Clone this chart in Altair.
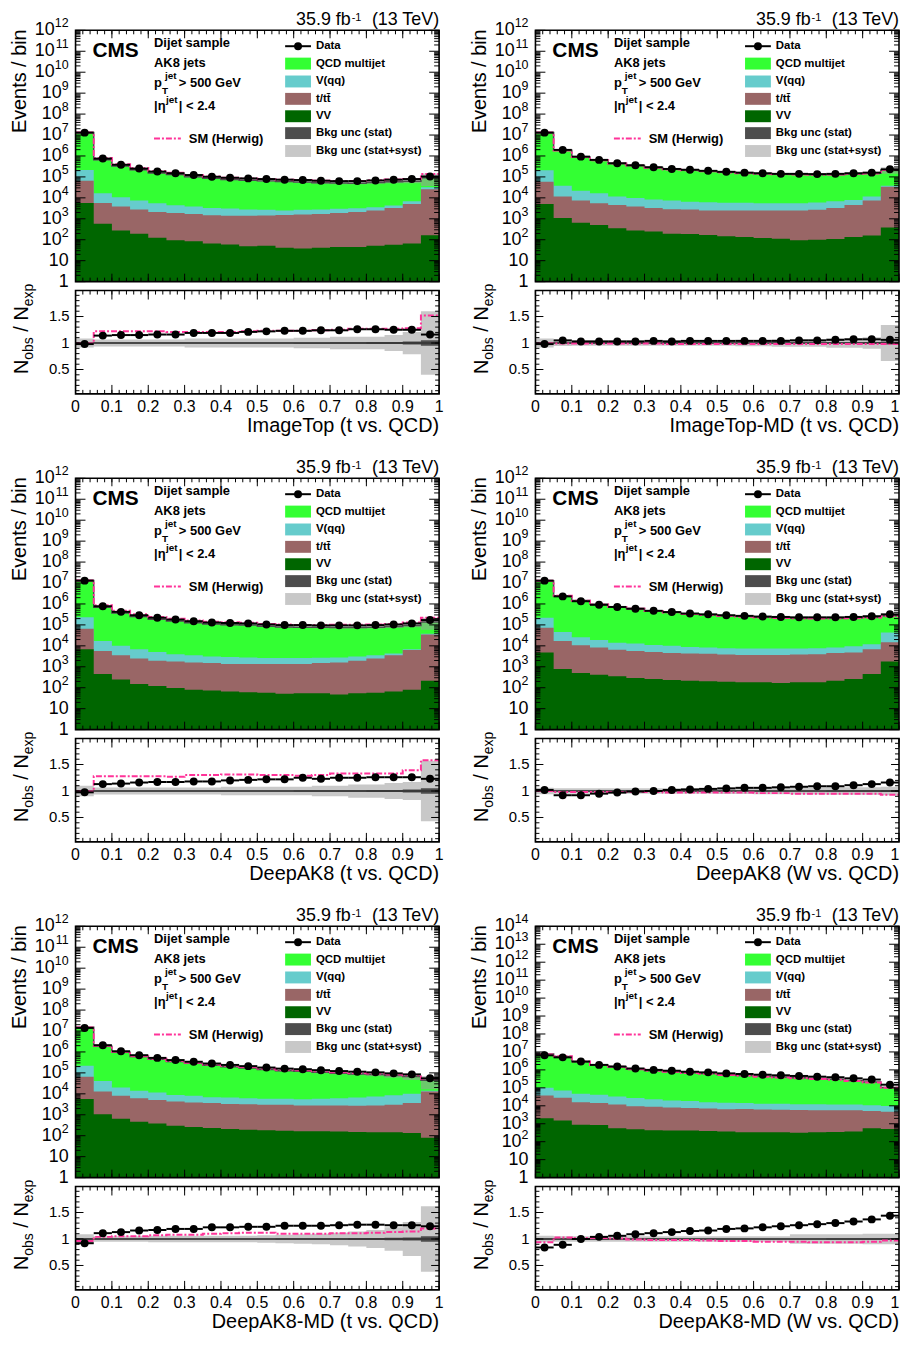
import altair as alt
import pandas as pd

FONT = "Liberation Sans"

# ---------------- values (20 bins of width 0.05) ----------------
# Panel 1: ImageTop (t vs. QCD)
P1_DATA = [1.3e7, 7.5e5, 3.8e5, 2.5e5, 1.8e5, 1.5e5, 1.23e5, 1.02e5, 9.1e4, 8.5e4, 7.9e4, 7.4e4, 7.1e4, 6.6e4, 6.3e4, 6.3e4, 6.8e4, 7.4e4, 7.9e4, 1.05e5]
P1_QCD = [1.31e7, 6.4e5, 3.2e5, 2.1e5, 1.5e5, 1.25e5, 9.9e4, 8.3e4, 7.3e4, 6.7e4, 6.2e4, 5.75e4, 5.5e4, 5.0e4, 4.8e4, 4.7e4, 5.05e4, 5.5e4, 5.6e4, 5.9e4]
P1_VQQ = [1.5e5, 1.1e4, 6.8e3, 4.6e3, 3.4e3, 2.5e3, 2.2e3, 1.8e3, 1.7e3, 1.4e3, 1.25e3, 1.0e3, 1.1e3, 1.05e3, 1.1e3, 1.1e3, 1.05e3, 1.0e3, 1.8e3, 6.0e3]
P1_TT = [6.0e4, 5.1e3, 3.6e3, 2.6e3, 2.0e3, 1.8e3, 1.6e3, 1.43e3, 1.34e3, 1.35e3, 1.4e3, 1.46e3, 1.56e3, 1.66e3, 1.85e3, 2.05e3, 2.45e3, 3.24e3, 5.0e3, 2.58e4]
P1_VV = [5700, 580, 280, 195, 126, 94, 85, 66, 59, 49, 51, 42, 38, 42, 45, 45, 52, 57, 66, 162]
P1_RATIO = [0.98, 1.14, 1.15, 1.15, 1.16, 1.16, 1.19, 1.19, 1.19, 1.21, 1.22, 1.23, 1.23, 1.24, 1.24, 1.26, 1.26, 1.25, 1.25, 1.16]
P1_HERWIG = [0.99, 1.22, 1.22, 1.22, 1.22, 1.21, 1.21, 1.21, 1.21, 1.22, 1.23, 1.23, 1.23, 1.24, 1.25, 1.27, 1.27, 1.27, 1.28, 1.52]
P1_SYST = [0.085, 0.065, 0.065, 0.065, 0.065, 0.065, 0.085, 0.085, 0.085, 0.085, 0.085, 0.085, 0.1, 0.1, 0.12, 0.12, 0.12, 0.15, 0.21, 0.6]
P1_STAT = [0.012, 0.01, 0.01, 0.01, 0.01, 0.01, 0.01, 0.01, 0.01, 0.01, 0.01, 0.01, 0.012, 0.012, 0.015, 0.015, 0.02, 0.02, 0.03, 0.05]

# Panel 2: ImageTop-MD (t vs. QCD)
P2_DATA = [1.3e7, 1.95e6, 9.3e5, 6.5e5, 4.5e5, 3.6e5, 2.9e5, 2.4e5, 2.2e5, 1.95e5, 1.75e5, 1.6e5, 1.5e5, 1.4e5, 1.4e5, 1.36e5, 1.4e5, 1.5e5, 1.6e5, 2.3e5]
P2_QCD = [1.31e7, 1.82e6, 8.8e5, 6.1e5, 4.25e5, 3.4e5, 2.7e5, 2.26e5, 2.05e5, 1.82e5, 1.62e5, 1.48e5, 1.38e5, 1.3e5, 1.27e5, 1.24e5, 1.25e5, 1.32e5, 1.38e5, 1.79e5]
P2_VQQ = [1.5e5, 2.65e4, 1.46e4, 1.1e4, 7.0e3, 6.1e3, 5.0e3, 4.5e3, 3.8e3, 3.7e3, 3.3e3, 3.3e3, 3.0e3, 3.0e3, 3.0e3, 3.3e3, 3.6e3, 3.4e3, 4.1e3, 4.0e3]
P2_TT = [5.4e4, 1.04e4, 6.75e3, 5.0e3, 4.15e3, 3.6e3, 3.05e3, 2.7e3, 2.6e3, 2.33e3, 2.35e3, 2.36e3, 2.38e3, 2.39e3, 2.4e3, 2.6e3, 3.2e3, 4.46e3, 7.24e3, 3.36e4]
P2_VV = [5100, 1080, 650, 500, 350, 280, 245, 195, 187, 170, 145, 135, 122, 113, 94, 100, 110, 135, 158, 380]
P2_RATIO = [0.98, 1.05, 1.03, 1.03, 1.03, 1.03, 1.04, 1.03, 1.04, 1.04, 1.04, 1.04, 1.04, 1.04, 1.05, 1.05, 1.06, 1.07, 1.07, 1.06]
P2_HERWIG = [0.99, 0.99, 0.99, 0.99, 0.99, 0.99, 0.99, 0.98, 0.98, 0.98, 0.98, 0.98, 0.98, 0.98, 0.98, 0.98, 0.98, 0.98, 0.98, 0.98]
P2_SYST = [0.085, 0.055, 0.05, 0.05, 0.05, 0.05, 0.05, 0.05, 0.05, 0.05, 0.05, 0.06, 0.06, 0.07, 0.07, 0.07, 0.09, 0.09, 0.11, 0.34]
P2_STAT = [0.012, 0.01, 0.01, 0.01, 0.01, 0.01, 0.01, 0.01, 0.01, 0.01, 0.01, 0.01, 0.01, 0.01, 0.012, 0.012, 0.015, 0.015, 0.02, 0.03]

# Panel 3: DeepAK8 (t vs. QCD)
P3_DATA = [1.3e7, 7.8e5, 4.2e5, 2.9e5, 2.2e5, 1.8e5, 1.5e5, 1.3e5, 1.23e5, 1.18e5, 1.05e5, 9.8e4, 9.8e4, 9.5e4, 9.5e4, 9.5e4, 9.8e4, 1.05e5, 1.18e5, 1.7e5]
P3_QCD = [1.31e7, 6.7e5, 3.6e5, 2.43e5, 1.83e5, 1.5e5, 1.23e5, 1.07e5, 1.0e5, 9.5e4, 8.3e4, 7.7e4, 7.5e4, 7.4e4, 7.3e4, 7.3e4, 7.4e4, 7.9e4, 8.7e4, 1.0e5]
P3_VQQ = [1.64e5, 1.13e4, 6.4e3, 4.4e3, 3.15e3, 2.2e3, 2.0e3, 1.6e3, 1.55e3, 1.45e3, 1.25e3, 1.25e3, 1.25e3, 1.2e3, 1.2e3, 1.15e3, 1.1e3, 700, 500, 3.0e3]
P3_TT = [5.9e4, 5.25e3, 3.35e3, 2.35e3, 1.83e3, 1.7e3, 1.52e3, 1.43e3, 1.28e3, 1.29e3, 1.29e3, 1.3e3, 1.3e3, 1.45e3, 1.55e3, 1.9e3, 2.44e3, 3.53e3, 6.3e3, 3.48e4]
P3_VV = [6900, 450, 245, 150, 122, 98, 81, 73, 66, 61, 57, 51, 55, 55, 47, 55, 57, 66, 81, 218]
P3_RATIO = [0.975, 1.13, 1.14, 1.16, 1.17, 1.17, 1.18, 1.18, 1.2, 1.21, 1.22, 1.22, 1.25, 1.23, 1.25, 1.25, 1.26, 1.26, 1.26, 1.23]
P3_HERWIG = [0.99, 1.28, 1.28, 1.28, 1.28, 1.27, 1.3, 1.3, 1.31, 1.31, 1.3, 1.3, 1.29, 1.3, 1.33, 1.33, 1.33, 1.33, 1.39, 1.58]
P3_SYST = [0.1, 0.065, 0.065, 0.065, 0.065, 0.065, 0.065, 0.065, 0.08, 0.08, 0.08, 0.08, 0.08, 0.1, 0.1, 0.125, 0.125, 0.15, 0.17, 0.57]
P3_STAT = [0.012, 0.01, 0.01, 0.01, 0.01, 0.01, 0.01, 0.01, 0.01, 0.01, 0.01, 0.01, 0.012, 0.012, 0.015, 0.015, 0.02, 0.02, 0.03, 0.05]

# Panel 4: DeepAK8 (W vs. QCD)
P4_DATA = [1.3e7, 2.3e6, 1.35e6, 9.1e5, 7.2e5, 5.9e5, 4.7e5, 4.1e5, 3.5e5, 3.2e5, 2.9e5, 2.7e5, 2.5e5, 2.4e5, 2.3e5, 2.3e5, 2.3e5, 2.4e5, 2.6e5, 3.2e5]
P4_QCD = [1.25e7, 2.45e6, 1.44e6, 9.4e5, 7.26e5, 5.87e5, 4.6e5, 3.9e5, 3.3e5, 3.0e5, 2.68e5, 2.48e5, 2.29e5, 2.17e5, 2.06e5, 2.03e5, 2.03e5, 2.07e5, 2.18e5, 2.33e5]
P4_VQQ = [1.46e5, 2.9e4, 1.53e4, 1.07e4, 7.5e3, 7.3e3, 5.9e3, 5.5e3, 4.6e3, 4.1e3, 3.8e3, 3.7e3, 3.7e3, 3.7e3, 3.5e3, 3.7e3, 3.8e3, 4.7e3, 5.1e3, 2.8e4]
P4_TT = [6.9e4, 1.62e4, 1.02e4, 7.9e3, 6.15e3, 5.4e3, 4.84e3, 4.27e3, 4.08e3, 4.0e3, 3.7e3, 3.52e3, 3.52e3, 3.53e3, 3.72e3, 3.82e3, 4.28e3, 4.54e3, 6.45e3, 1.32e4]
P4_VV = [4800, 780, 500, 420, 350, 290, 260, 235, 218, 203, 195, 182, 182, 170, 182, 182, 218, 260, 450, 1800]
P4_RATIO = [1.02, 0.92, 0.92, 0.95, 0.97, 0.99, 1.0, 1.02, 1.03, 1.04, 1.05, 1.06, 1.06, 1.07, 1.08, 1.09, 1.09, 1.11, 1.13, 1.16]
P4_HERWIG = [1.0, 0.98, 0.98, 0.98, 0.98, 0.98, 0.98, 0.97, 0.97, 0.97, 0.97, 0.97, 0.96, 0.96, 0.95, 0.95, 0.95, 0.95, 0.95, 0.93]
P4_SYST = [0.06, 0.05, 0.05, 0.05, 0.05, 0.05, 0.05, 0.05, 0.05, 0.05, 0.055, 0.055, 0.06, 0.06, 0.065, 0.065, 0.07, 0.07, 0.07, 0.08]
P4_STAT = [0.012, 0.01, 0.01, 0.01, 0.01, 0.01, 0.01, 0.01, 0.01, 0.01, 0.01, 0.01, 0.01, 0.01, 0.01, 0.01, 0.012, 0.012, 0.015, 0.02]

# Panel 5: DeepAK8-MD (t vs. QCD)
P5_DATA = [1.4e7, 2.1e6, 1.08e6, 7.0e5, 5.2e5, 4.1e5, 3.4e5, 2.8e5, 2.4e5, 2.1e5, 1.8e5, 1.6e5, 1.5e5, 1.35e5, 1.22e5, 1.14e5, 1.06e5, 9.5e4, 8.5e4, 5.5e4]
P5_QCD = [1.5e7, 1.85e6, 9.4e5, 5.86e5, 4.33e5, 3.36e5, 2.78e5, 2.23e5, 1.9e5, 1.65e5, 1.4e5, 1.22e5, 1.15e5, 1.02e5, 9.1e4, 8.3e4, 7.6e4, 6.6e4, 5.7e4, 3.0e4]
P5_VQQ = [1.54e5, 2.8e4, 1.2e4, 7.8e3, 6.4e3, 4.6e3, 4.1e3, 3.3e3, 3.3e3, 3.0e3, 2.8e3, 2.8e3, 2.7e3, 3.0e3, 3.4e3, 3.9e3, 4.6e3, 5.5e3, 6.4e3, 1.0e3]
P5_TT = [6.0e4, 1.19e4, 7.35e3, 5.73e3, 4.72e3, 4.0e3, 3.64e3, 3.37e3, 3.09e3, 3.0e3, 2.82e3, 2.83e3, 2.64e3, 2.64e3, 2.64e3, 2.55e3, 2.66e3, 2.86e3, 3.47e3, 1.29e4]
P5_VV = [5700, 1070, 650, 470, 380, 300, 260, 235, 210, 195, 182, 175, 162, 162, 158, 151, 145, 145, 135, 79]
P5_RATIO = [0.92, 1.11, 1.13, 1.16, 1.17, 1.19, 1.19, 1.22, 1.22, 1.23, 1.23, 1.25, 1.25, 1.25, 1.26, 1.27, 1.27, 1.26, 1.26, 1.24]
P5_HERWIG = [0.96, 1.04, 1.05, 1.05, 1.07, 1.08, 1.08, 1.1, 1.11, 1.12, 1.12, 1.1, 1.1, 1.1, 1.11, 1.11, 1.12, 1.13, 1.14, 1.2]
P5_SYST = [0.09, 0.05, 0.05, 0.05, 0.06, 0.06, 0.06, 0.06, 0.06, 0.06, 0.07, 0.08, 0.09, 0.1, 0.12, 0.14, 0.17, 0.22, 0.32, 0.62]
P5_STAT = [0.012, 0.01, 0.01, 0.01, 0.01, 0.01, 0.01, 0.01, 0.01, 0.01, 0.01, 0.012, 0.012, 0.015, 0.015, 0.02, 0.02, 0.025, 0.03, 0.05]

# Panel 6: DeepAK8-MD (W vs. QCD)
P6_DATA = [6.5e6, 5.0e6, 2.9e6, 1.9e6, 1.55e6, 1.2e6, 1.0e6, 9.0e5, 7.9e5, 7.3e5, 6.4e5, 5.9e5, 5.4e5, 5.0e5, 4.6e5, 4.2e5, 3.9e5, 3.4e5, 2.9e5, 1.5e5]
P6_QCD = [7.6e6, 5.5e6, 2.85e6, 1.79e6, 1.43e6, 1.07e6, 8.8e5, 7.8e5, 6.7e5, 6.1e5, 5.25e5, 4.75e5, 4.27e5, 3.87e5, 3.53e5, 3.18e5, 2.88e5, 2.44e5, 2.01e5, 9.4e4]
P6_VQQ = [6.2e4, 4.3e4, 3.1e4, 2.65e4, 2.13e4, 1.76e4, 1.43e4, 1.2e4, 1.09e4, 9.0e3, 8.5e3, 8.0e3, 6.8e3, 7.1e3, 6.1e3, 6.3e3, 6.3e3, 6.0e3, 5.5e3, 5.2e3]
P6_TT = [3.6e4, 2.65e4, 1.51e4, 1.37e4, 1.11e4, 8.9e3, 8.3e3, 7.6e3, 7.2e3, 6.6e3, 6.1e3, 6.2e3, 5.9e3, 5.6e3, 5.6e3, 5.4e3, 5.35e3, 5.3e3, 4.6e3, 4.1e3]
P6_VV = [2000, 1500, 890, 850, 560, 490, 435, 415, 415, 400, 365, 335, 335, 335, 320, 335, 350, 365, 560, 510]
P6_RATIO = [0.84, 0.89, 1.0, 1.04, 1.06, 1.09, 1.11, 1.13, 1.15, 1.16, 1.19, 1.2, 1.22, 1.24, 1.26, 1.28, 1.3, 1.33, 1.37, 1.44]
P6_HERWIG = [0.94, 1.03, 1.02, 1.02, 1.01, 0.99, 0.98, 0.98, 0.98, 0.97, 0.96, 0.96, 0.95, 0.95, 0.95, 0.94, 0.94, 0.94, 0.95, 0.97]
P6_SYST = [0.06, 0.05, 0.05, 0.05, 0.05, 0.05, 0.05, 0.05, 0.05, 0.05, 0.05, 0.05, 0.05, 0.05, 0.09, 0.09, 0.09, 0.09, 0.1, 0.1]
P6_STAT = [0.012, 0.01, 0.01, 0.01, 0.01, 0.01, 0.01, 0.01, 0.01, 0.01, 0.01, 0.01, 0.01, 0.01, 0.01, 0.01, 0.012, 0.012, 0.015, 0.02]

TITLES = ["ImageTop (t vs. QCD)", "ImageTop-MD (t vs. QCD)", "DeepAK8 (t vs. QCD)",
          "DeepAK8 (W vs. QCD)", "DeepAK8-MD (t vs. QCD)", "DeepAK8-MD (W vs. QCD)"]
Y_MAX_EXP = [12, 12, 12, 12, 12, 14]

# bin edges / tick values / tick labels
EDGES = [0.0, 0.05, 0.1, 0.15, 0.2, 0.25, 0.3, 0.35, 0.4, 0.45, 0.5, 0.55, 0.6, 0.65, 0.7, 0.75, 0.8, 0.85, 0.9, 0.95, 1.0]
MIDS = [0.025, 0.075, 0.125, 0.175, 0.225, 0.275, 0.325, 0.375, 0.425, 0.475, 0.525, 0.575, 0.625, 0.675, 0.725, 0.775, 0.825, 0.875, 0.925, 0.975]
X_TICKS = [0.0, 0.1, 0.2, 0.3, 0.4, 0.5, 0.6, 0.7, 0.8, 0.9, 1.0]
X_TICK_LABELS = ["0", "0.1", "0.2", "0.3", "0.4", "0.5", "0.6", "0.7", "0.8", "0.9", "1"]
X_MINOR = [i / 50 for i in range(51)]
R_TICKS = [0.5, 1.0, 1.5]
R_TICK_LABELS = ["0.5", "1", "1.5"]
R_MINOR = [i / 10 for i in range(1, 20)]
LOG_TICK_BASE = ["1", "10", "10", "10", "10", "10", "10", "10", "10", "10", "10", "10", "10", "10", "10"]
LOG_TICK_EXP = ["", "", "2", "3", "4", "5", "6", "7", "8", "9", "10", "11", "12", "13", "14"]
LEGEND_LABELS = ["Data", "QCD multijet", "V(qq)", "t/tt̄", "VV", "Bkg unc (stat)", "Bkg unc (stat+syst)"]

# ---------------- style / layout ----------------
C_QCD, C_VQQ, C_TT, C_VV = "#33ff33", "#66cccc", "#996666", "#006600"
C_STAT, C_SYST, C_HW = "#4d4d4d", "#9a9a9a", "#ff3399"
HW_DASH = [6, 2, 2, 2]
COL_L = [68, 531]
ROW_T = [18, 469, 920]
PW, MH, RGAP, RH = 366, 253, 262, 104
R_DOMAIN = [0.04, 1.99]

ONE = pd.DataFrame({"k": [0]})

PANELS = []
for i in range(6):
    g = globals()
    PANELS.append({k: g[f"P{i+1}_{k.upper()}"] for k in
                   ("data", "qcd", "vqq", "tt", "vv", "ratio", "herwig", "syst", "stat")})
    PANELS[-1]["title"] = TITLES[i]
    PANELS[-1]["yexp"] = Y_MAX_EXP[i]


def text(x, y, s, size, bold=False, align="left", baseline="alphabetic", angle=None, color="black"):
    props = dict(text=s, font=FONT, fontSize=size, fontWeight="bold" if bold else "normal",
                 align=align, baseline=baseline, color=color)
    if angle is not None:
        props["angle"] = angle
    return alt.Chart(ONE).mark_text(**props).encode(x=alt.value(x), y=alt.value(y))


def rect(x1, x2, y1, y2, **props):
    return alt.Chart(ONE).mark_rect(**props).encode(
        x=alt.value(x1), x2=alt.value(x2), y=alt.value(y1), y2=alt.value(y2))


def hline(x1, x2, y, **props):
    return alt.Chart(ONE).mark_rule(**props).encode(x=alt.value(x1), x2=alt.value(x2), y=alt.value(y))


def step_frame(top, bot):
    top = list(top)
    bot = list(bot)
    return pd.DataFrame({"x": EDGES, "top": top + top[-1:], "bot": bot + bot[-1:]})


def tick_layers(X, Y, L, T, H, ymaj, ymin, ylen, xlen):
    out = []
    for vals, ln in ((ymaj, ylen[0]), (ymin, ylen[1])):
        df = pd.DataFrame({"v": vals})
        out.append(alt.Chart(df).mark_rule(color="black", strokeWidth=1).encode(
            y=Y("v"), x=alt.value(L), x2=alt.value(L + ln)))
        out.append(alt.Chart(df).mark_rule(color="black", strokeWidth=1).encode(
            y=Y("v"), x=alt.value(L + PW - ln), x2=alt.value(L + PW)))
    for vals, ln in ((X_TICKS, xlen[0]), (X_MINOR, xlen[1])):
        df = pd.DataFrame({"v": vals})
        out.append(alt.Chart(df).mark_rule(color="black", strokeWidth=1).encode(
            x=X("v"), y=alt.value(T), y2=alt.value(T + ln)))
        out.append(alt.Chart(df).mark_rule(color="black", strokeWidth=1).encode(
            x=X("v"), y=alt.value(T + H - ln), y2=alt.value(T + H)))
    out.append(rect(L, L + PW, T, T + H, fillOpacity=0, stroke="black", strokeWidth=1.6))
    return out


def main_panel(p, L, T):
    xs = alt.Scale(domain=[0, 1], range=[L, L + PW], nice=False, zero=False)
    ys = alt.Scale(type="log", domain=[1, 10 ** p["yexp"]], range=[T + MH, T], nice=False)

    def X(f):
        return alt.X(f, type="quantitative", scale=xs, axis=None)

    def Y(f):
        return alt.Y(f, type="quantitative", scale=ys, axis=None)

    qcd, vqq, tt, vv = (pd.Series(p[k], dtype=float) for k in ("qcd", "vqq", "tt", "vv"))
    lv_tt = vv + tt
    lv_vqq = lv_tt + vqq
    total = lv_vqq + qcd
    ones = [1.0] * 20
    layers = []
    for top, col in ((total, C_QCD), (lv_vqq, C_VQQ), (lv_tt, C_TT), (vv, C_VV)):
        layers.append(alt.Chart(step_frame(top, ones)).mark_area(
            interpolate="step-after", color=col, opacity=1).encode(x=X("x"), y=Y("top"), y2=alt.Y2("bot")))
    syst = pd.Series(p["syst"])
    layers.append(alt.Chart(step_frame(total * (1 + syst), total * (1 - syst))).mark_area(
        interpolate="step-after", color=C_SYST, opacity=0.55).encode(x=X("x"), y=Y("top"), y2=alt.Y2("bot")))
    layers.append(alt.Chart(step_frame(total, total)).mark_line(
        interpolate="step-after", color=C_STAT, strokeWidth=1.5).encode(x=X("x"), y=Y("top")))
    hw = total * pd.Series(p["herwig"])
    layers.append(alt.Chart(step_frame(hw, hw)).mark_line(
        interpolate="step-after", color=C_HW, strokeWidth=2, strokeDash=HW_DASH).encode(x=X("x"), y=Y("top")))
    dd = pd.DataFrame({"lo": EDGES[:-1], "hi": EDGES[1:], "mid": MIDS, "v": p["data"]})
    layers.append(alt.Chart(dd).mark_rule(color="black", strokeWidth=2).encode(
        x=X("lo"), x2=alt.X2("hi"), y=Y("v")))
    layers.append(alt.Chart(dd).mark_circle(color="black", opacity=1, size=64).encode(x=X("mid"), y=Y("v")))

    n = p["yexp"]
    ymaj = [10.0 ** k for k in range(n + 1)]
    ymin = [m * 10.0 ** k for k in range(n) for m in range(2, 10)]
    layers += tick_layers(X, Y, L, T, MH, ymaj, ymin, (10, 5), (8, 4))

    # log tick labels: base "10" plus a raised exponent
    lab = pd.DataFrame({"v": ymaj, "base": LOG_TICK_BASE[: n + 1], "exp": LOG_TICK_EXP[: n + 1]})
    lab["nd"] = lab["exp"].str.len()
    for nd, shift in ((0, 0), (1, 7), (2, 14)):
        sub = lab[lab["nd"] == nd]
        layers.append(alt.Chart(sub).mark_text(align="right", baseline="middle", font=FONT, fontSize=18).encode(
            x=alt.value(L - 7 - shift), y=Y("v"), text=alt.Text("base:N")))
        if nd:
            layers.append(alt.Chart(sub).mark_text(align="right", baseline="alphabetic", font=FONT,
                                                   fontSize=12.5, dy=-3).encode(
                x=alt.value(L - 7), y=Y("v"), text=alt.Text("exp:N")))

    # titles and texts
    layers.append(text(L - 50, T - 1, "Events / bin", 20, align="right", angle=270))
    layers.append(text(L + PW - 89, T - 5, "35.9 fb", 18, align="right"))
    layers.append(text(L + PW - 88, T - 9.5, "-1", 11, align="left"))
    layers.append(text(L + PW, T - 5, "(13 TeV)", 18, align="right"))
    layers.append(text(L + 17, T + 27, "CMS", 21, bold=True))
    layers.append(text(L + 79, T + 17, "Dijet sample", 13, bold=True))
    layers.append(text(L + 79, T + 37, "AK8 jets", 13, bold=True))
    layers.append(text(L + 79, T + 57, "p", 13, bold=True))
    layers.append(text(L + 90, T + 49, "jet", 10, bold=True))
    layers.append(text(L + 87, T + 64, "T", 10, bold=True))
    layers.append(text(L + 104, T + 57, "> 500 GeV", 13, bold=True))
    layers.append(text(L + 79, T + 80, "|η", 13, bold=True))
    layers.append(text(L + 91, T + 73, "jet", 10, bold=True))
    layers.append(text(L + 104, T + 80, "| < 2.4", 13, bold=True))
    layers.append(hline(L + 79, L + 106, T + 109, color=C_HW, strokeWidth=2, strokeDash=HW_DASH))
    layers.append(text(L + 114, T + 113, "SM (Herwig)", 13, bold=True))

    # legend (right column)
    ly = [16, 33.5, 51.5, 69, 86.5, 103.5, 121.5]
    layers.append(hline(L + 211, L + 237, T + ly[0], color="black", strokeWidth=2))
    layers.append(alt.Chart(ONE).mark_circle(color="black", opacity=1, size=64).encode(
        x=alt.value(L + 224), y=alt.value(T + ly[0])))
    for yc, col in zip(ly[1:6], (C_QCD, C_VQQ, C_TT, C_VV, C_STAT)):
        layers.append(rect(L + 211, L + 237, T + yc - 6, T + yc + 6, color=col))
    layers.append(rect(L + 211, L + 237, T + ly[6] - 6, T + ly[6] + 6, color=C_SYST, opacity=0.55))
    for yc, s in zip(ly, LEGEND_LABELS):
        layers.append(text(L + 242, T + yc, s, 11.5, bold=True, baseline="middle"))
    return alt.layer(*layers)


def ratio_panel(p, L, T, last_dx):
    B = T + RH
    xs = alt.Scale(domain=[0, 1], range=[L, L + PW], nice=False, zero=False)
    ys = alt.Scale(domain=R_DOMAIN, range=[B, T], nice=False, zero=False)

    def X(f):
        return alt.X(f, type="quantitative", scale=xs, axis=None)

    def Y(f):
        return alt.Y(f, type="quantitative", scale=ys, axis=None)

    layers = []
    for unc, col, op in ((p["syst"], C_SYST, 0.55), (p["stat"], C_STAT, 1.0)):
        layers.append(alt.Chart(step_frame([1 + u for u in unc], [1 - u for u in unc])).mark_area(
            interpolate="step-after", color=col, opacity=op).encode(x=X("x"), y=Y("top"), y2=alt.Y2("bot")))
    unity = pd.DataFrame({"a": [0.0], "b": [1.0], "v": [1.0]})
    layers.append(alt.Chart(unity).mark_rule(color="#333333", strokeWidth=1.5).encode(
        x=X("a"), x2=alt.X2("b"), y=Y("v")))
    layers.append(alt.Chart(step_frame(p["herwig"], p["herwig"])).mark_line(
        interpolate="step-after", color=C_HW, strokeWidth=2, strokeDash=HW_DASH).encode(x=X("x"), y=Y("top")))
    dd = pd.DataFrame({"lo": EDGES[:-1], "hi": EDGES[1:], "mid": MIDS, "v": p["ratio"]})
    layers.append(alt.Chart(dd).mark_rule(color="black", strokeWidth=2).encode(
        x=X("lo"), x2=alt.X2("hi"), y=Y("v")))
    layers.append(alt.Chart(dd).mark_circle(color="black", opacity=1, size=64).encode(x=X("mid"), y=Y("v")))

    layers += tick_layers(X, Y, L, T, RH, R_TICKS, R_MINOR, (8, 4), (9, 4))
    ylab = pd.DataFrame({"v": R_TICKS, "lab": R_TICK_LABELS})
    layers.append(alt.Chart(ylab).mark_text(align="right", baseline="middle", font=FONT, fontSize=15).encode(
        x=alt.value(L - 6), y=Y("v"), text=alt.Text("lab:N")))
    xlab = pd.DataFrame({"v": X_TICKS, "lab": X_TICK_LABELS})
    layers.append(alt.Chart(xlab.iloc[:-1]).mark_text(align="center", baseline="alphabetic", font=FONT,
                                                      fontSize=16).encode(
        x=X("v"), y=alt.value(B + 18), text=alt.Text("lab:N")))
    layers.append(alt.Chart(xlab.iloc[-1:]).mark_text(align="center", baseline="alphabetic", font=FONT,
                                                      fontSize=16, dx=last_dx).encode(
        x=X("v"), y=alt.value(B + 18), text=alt.Text("lab:N")))
    layers.append(text(L + PW, B + 38, p["title"], 20, align="right"))

    # y title: N_obs / N_exp (rotated, pieces stacked upward)
    layers.append(text(L - 48, T + 84, "N", 20, angle=270))
    layers.append(text(L - 43, T + 69.6, "obs", 14, angle=270))
    layers.append(text(L - 48, T + 41.4, "/", 20, angle=270))
    layers.append(text(L - 48, T + 30.2, "N", 20, angle=270))
    layers.append(text(L - 43, T + 15.8, "exp", 14, angle=270))
    return alt.layer(*layers)


subcharts = []
for i, p in enumerate(PANELS):
    L = COL_L[i % 2]
    T = ROW_T[i // 2]
    subcharts.append(main_panel(p, L, T))
    subcharts.append(ratio_panel(p, L, T + RGAP, -4 if i % 2 else 0))

chart = (
    alt.layer(*subcharts)
    .resolve_scale(x="independent", y="independent")
    .properties(width=898, height=1329, padding=0, autosize=alt.AutoSizeParams(type="none"))
    .configure_view(stroke=None)
)

chart.save("out.html", embed_options={"renderer": "svg", "actions": False})
